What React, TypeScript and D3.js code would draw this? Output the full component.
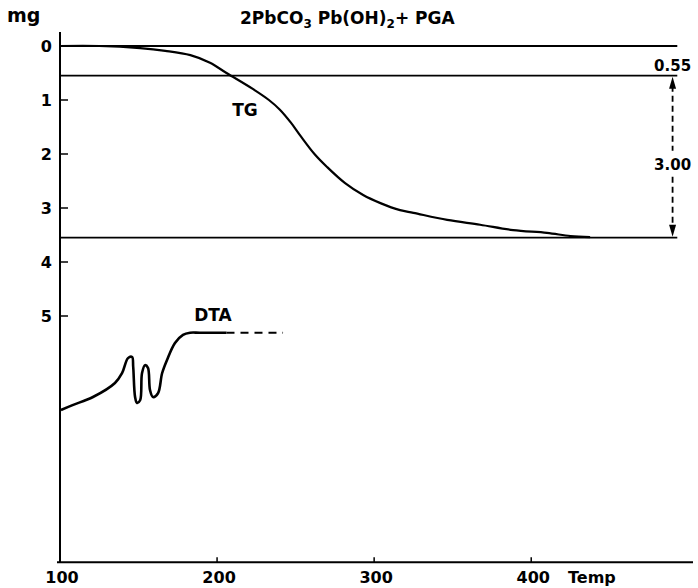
import React from 'react';
import * as d3 from 'd3';

// TG curve (temperature °C, mass loss mg)
const tgTemp = [100, 125, 151, 167, 183, 195.5, 206, 223, 233, 240, 247, 253, 262, 270, 281.5, 293, 304, 316.5, 325, 346.5, 367.5, 388.5, 410, 425, 437.5];
const tgMass = [0, 0, 0.04, 0.09, 0.17, 0.31, 0.5, 0.8, 1.0, 1.18, 1.42, 1.66, 2.0, 2.24, 2.54, 2.76, 2.91, 3.04, 3.09, 3.22, 3.31, 3.41, 3.46, 3.52, 3.54];

// DTA curve (temperature, signal on the same vertical scale)
const dtaTemp = [100.6, 108, 121, 135, 139.5, 143.3, 145.9, 146.6, 147.8, 149, 151, 152.2, 154.1, 156, 157.3, 159.2, 162.4, 165, 168.2, 173.2, 178.3, 182.8, 189, 206];
const dtaSignal = [6.74, 6.65, 6.5, 6.24, 6.06, 5.78, 5.76, 5.94, 6.5, 6.61, 6.56, 6.06, 5.91, 5.96, 6.37, 6.5, 6.43, 6.06, 5.81, 5.5, 5.35, 5.31, 5.31, 5.31];
const dtaDashTemp = [206, 242];
const dtaDashSignal = [5.31, 5.31];

// Reference levels (mg)
const refLevels = [0, 0.55, 3.55];
const refEndTemp = 493;
const arrowTemp = 490;
const annotLabels = ['0.55', '3.00'];

const xTicks = [100, 200, 300, 400];
const yTicks = [0, 1, 2, 3, 4, 5];

const W = 698;
const H = 588;
const font = '"DejaVu Sans", Verdana, sans-serif';

export default function App() {
  const x = d3.scaleLinear().domain([100, 503]).range([60, 693]);
  const y = d3.scaleLinear().domain([0, 5]).range([46, 316]);
  const yTop = -0.26;
  const yBottom = 9.56;

  const tgLine = d3
    .line<number>()
    .x((_, i) => x(tgTemp[i]))
    .y((d) => y(d))
    .curve(d3.curveCatmullRom.alpha(0.5));
  const dtaLine = d3
    .line<number>()
    .x((_, i) => x(dtaTemp[i]))
    .y((d) => y(d))
    .curve(d3.curveCatmullRom.alpha(0.5));
  const dashLine = d3
    .line<number>()
    .x((_, i) => x(dtaDashTemp[i]))
    .y((d) => y(d));

  const ax = x(arrowTemp);
  const aTop = y(refLevels[1]);
  const aBot = y(refLevels[2]);
  const midY = y(2.2);

  return (
    <svg width={W} height={H} style={{ position: 'absolute', left: 0, top: 0, background: '#fff' }} fontFamily={font}>
      <rect x={0} y={0} width={W} height={H} fill="#fff" />
      {/* axes */}
      <line x1={x(100)} x2={x(100)} y1={y(yTop)} y2={y(yBottom)} stroke="#000" strokeWidth={2} />
      <line x1={x(100) - 3} x2={x(503)} y1={y(yBottom)} y2={y(yBottom)} stroke="#000" strokeWidth={1.8} />
      {yTicks.map((t) => (
        <g key={'y' + t}>
          <line x1={x(100)} x2={x(100) + 8} y1={y(t)} y2={y(t)} stroke="#000" strokeWidth={1.5} />
          <text x={x(100) - 8} y={y(t)} dy="0.36em" textAnchor="end" fontSize={16} fontWeight="bold">
            {t}
          </text>
        </g>
      ))}
      {xTicks.map((t) => (
        <g key={'x' + t}>
          {t !== 100 && <line x1={x(t)} x2={x(t)} y1={y(yBottom)} y2={y(yBottom) - 5} stroke="#000" strokeWidth={1.5} />}
          <text x={x(t) + 2} y={y(yBottom) + 21} textAnchor="middle" fontSize={16} fontWeight="bold">
            {t}
          </text>
        </g>
      ))}
      <text x={568} y={y(yBottom) + 21} fontSize={16} fontWeight="bold">Temp</text>
      <text x={7} y={22} fontSize={19} fontWeight="bold">mg</text>

      {/* title */}
      <text x={240} y={24} fontSize={17} fontWeight="bold">
        <tspan>2PbCO</tspan>
        <tspan fontSize={12} dy={4}>3</tspan>
        <tspan dy={-4}> Pb(OH)</tspan>
        <tspan fontSize={12} dy={4}>2</tspan>
        <tspan dy={-4}>+ PGA</tspan>
      </text>

      {/* reference levels */}
      {refLevels.map((l) => (
        <line key={'r' + l} x1={x(100)} x2={x(refEndTemp)} y1={y(l)} y2={y(l)} stroke="#000" strokeWidth={1.8} />
      ))}

      {/* dimension arrow */}
      <line x1={ax} x2={ax} y1={aTop + 10} y2={midY - 14} stroke="#000" strokeWidth={1.8} strokeDasharray="6,4" />
      <line x1={ax} x2={ax} y1={midY + 12} y2={aBot - 10} stroke="#000" strokeWidth={1.8} strokeDasharray="6,4" />
      <path d={`M${ax},${aTop + 1} L${ax - 3.5},${aTop + 13} L${ax + 3.5},${aTop + 13} Z`} fill="#000" />
      <path d={`M${ax},${aBot - 1} L${ax - 3.5},${aBot - 13} L${ax + 3.5},${aBot - 13} Z`} fill="#000" />
      <text x={ax} y={aTop - 5} textAnchor="middle" fontSize={15} fontWeight="bold">{annotLabels[0]}</text>
      <text x={ax} y={midY} dy="0.36em" textAnchor="middle" fontSize={15} fontWeight="bold">{annotLabels[1]}</text>

      {/* TG curve */}
      <path d={tgLine(tgMass) || ''} fill="none" stroke="#000" strokeWidth={2.2} />
      <text x={245} y={110} dy="0.36em" textAnchor="middle" fontSize={17} fontWeight="bold">TG</text>

      {/* DTA curve */}
      <path d={dtaLine(dtaSignal) || ''} fill="none" stroke="#000" strokeWidth={2.6} strokeLinejoin="round" />
      <path d={dashLine(dtaDashSignal) || ''} fill="none" stroke="#000" strokeWidth={2} strokeDasharray="8,6" />
      <text x={213} y={315} dy="0.36em" textAnchor="middle" fontSize={17} fontWeight="bold">DTA</text>
    </svg>
  );
}
